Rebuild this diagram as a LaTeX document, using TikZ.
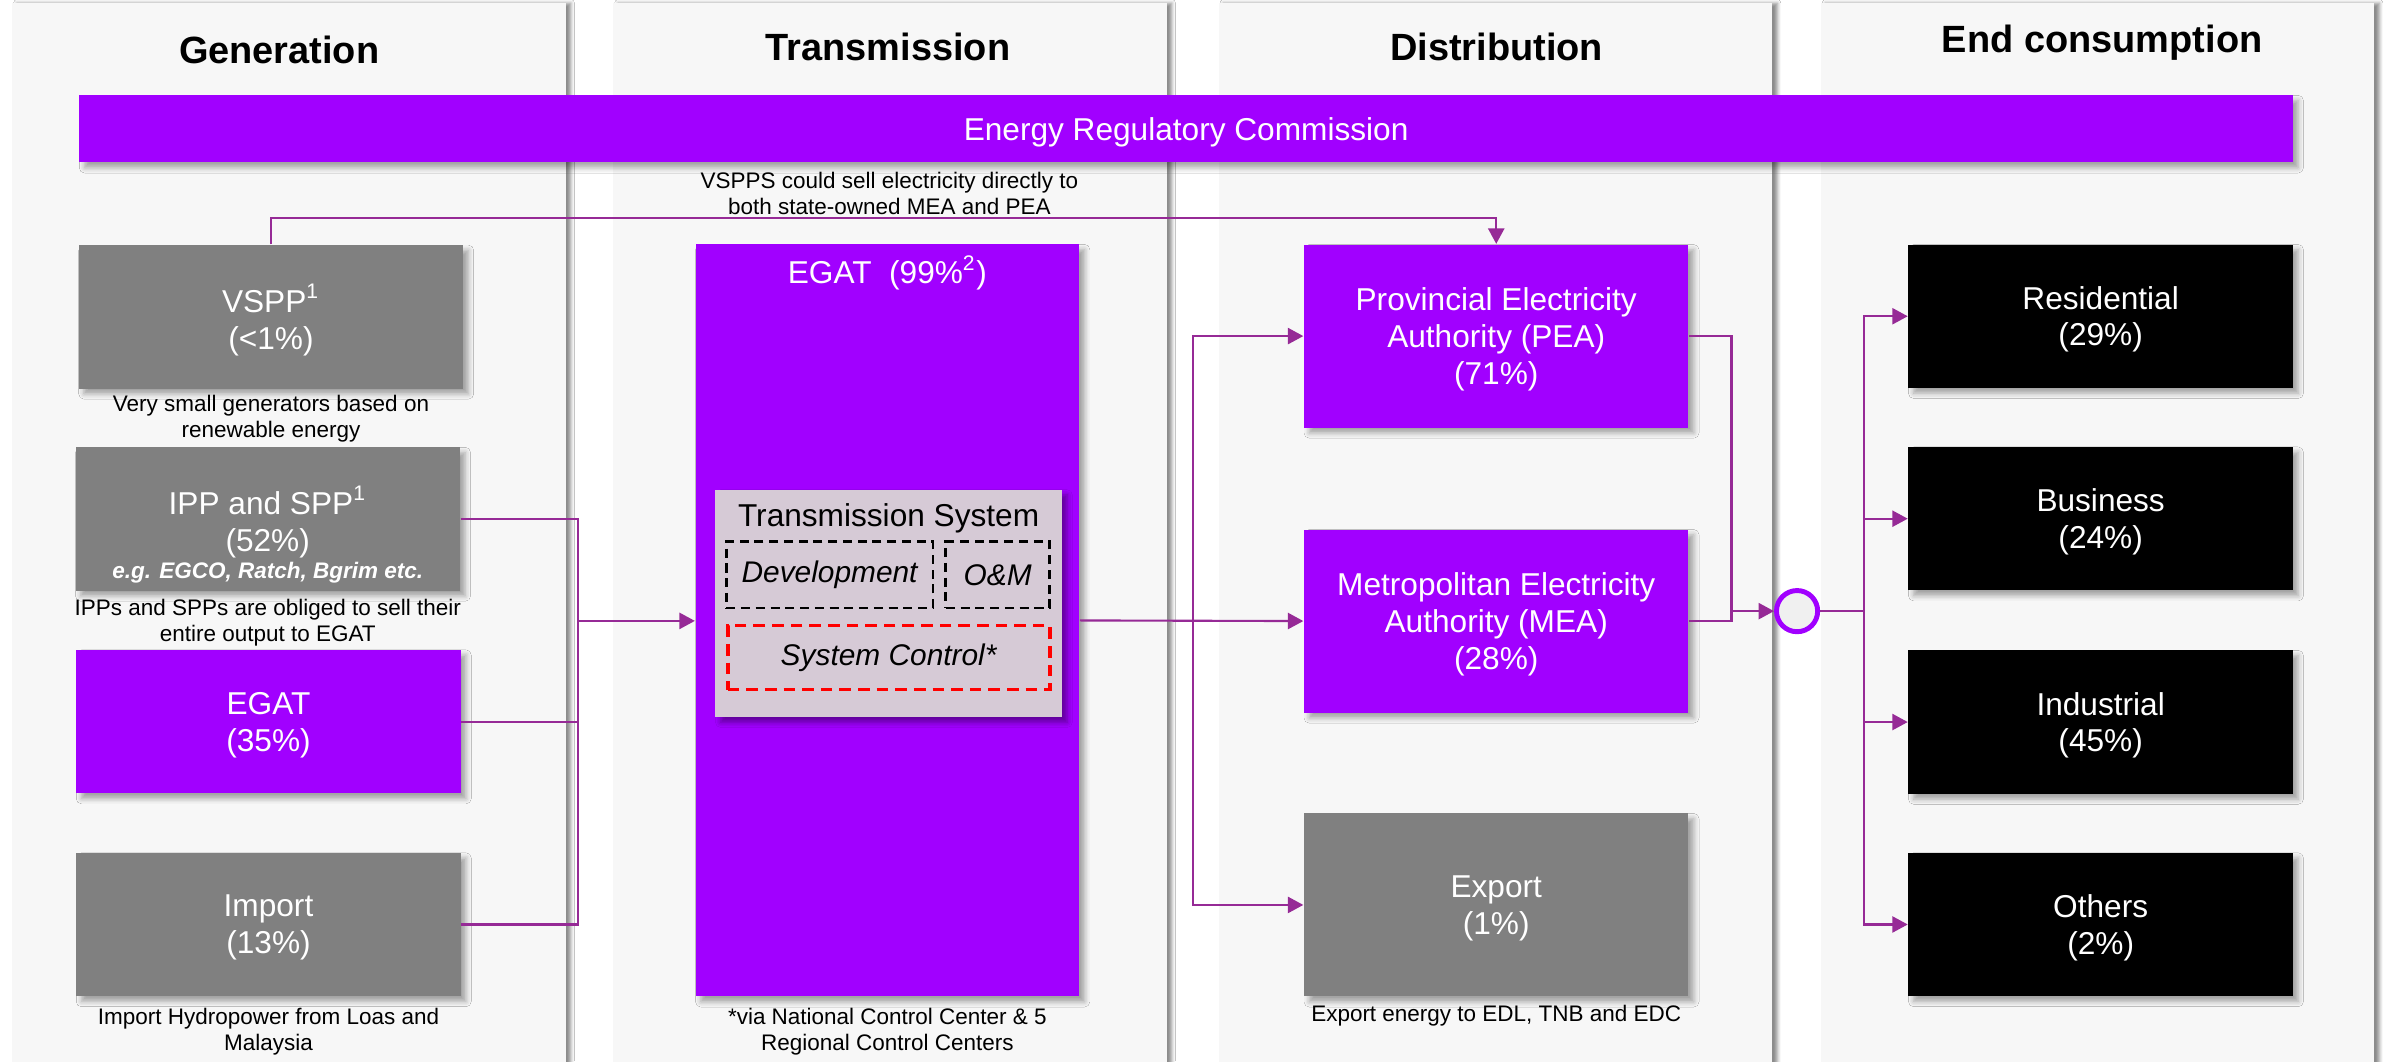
\documentclass[tikz,border=0pt]{standalone}
\usepackage{fontspec}
\setmainfont{Liberation Sans}
\usepackage{tikz}
\usetikzlibrary{arrows.meta,positioning,shadows.blur}
\usepackage{xcolor}
\definecolor{accpurple}{HTML}{A100FF}
\definecolor{accgrey}{HTML}{808080}
\definecolor{linkpurple}{HTML}{962A96}
\definecolor{lanegrey}{HTML}{F7F7F7}
\definecolor{tsysgrey}{HTML}{D6CAD6}
\definecolor{hubgrey}{HTML}{F0F0F0}
\definecolor{ctrlred}{HTML}{FF0000}
\newlength{\gridpx}
\setlength{\gridpx}{0.015255cm}
\tikzset{
  lane/.style={
    fill=lanegrey,
    minimum width=363\gridpx,
    minimum height=698\gridpx,
    inner sep=0pt,
    blur shadow={shadow xshift=1.4pt, shadow yshift=0pt, shadow opacity=45, shadow blur radius=1pt}
  },
  laneheader/.style={
    font=\fontsize{10.8}{13}\selectfont\bfseries
  },
  basebox/.style={
    text=white,
    align=center,
    inner sep=2pt,
    text depth=0pt,
    minimum width=252\gridpx,
    minimum height=94\gridpx,
    font=\fontsize{9}{10.6}\selectfont,
    blur shadow={shadow xshift=1.5pt, shadow yshift=-1.5pt, shadow opacity=35, shadow blur radius=1.5pt}
  },
  greybox/.style={basebox, fill=accgrey},
  purplebox/.style={basebox, fill=accpurple},
  usebox/.style={basebox, fill=black, font=\fontsize{9}{10.4}\selectfont},
  notetext/.style={
    align=center,
    inner sep=0pt,
    font=\fontsize{6.4}{7.4}\selectfont
  },
  tsysbox/.style={
    fill=tsysgrey,
    minimum width=227\gridpx,
    minimum height=149\gridpx,
    inner sep=0pt,
    blur shadow={shadow xshift=1.5pt, shadow yshift=-1.5pt, shadow opacity=40, shadow blur radius=1.5pt}
  },
  devbox/.style={
    draw=black,
    line width=0.8pt,
    dash pattern=on 2.6pt off 1.6pt,
    minimum height=43.6\gridpx,
    inner sep=0pt,
    font=\fontsize{8.5}{10}\selectfont\itshape
  },
  ctrlbox/.style={
    draw=ctrlred,
    line width=1.1pt,
    dash pattern=on 3.3pt off 2pt,
    minimum width=211\gridpx,
    minimum height=42\gridpx,
    inner sep=0pt,
    font=\fontsize{8.5}{10}\selectfont\itshape
  },
  flowline/.style={
    draw=linkpurple,
    line width=0.6pt
  },
  flowarrow/.style={
    flowline,
    -{Triangle[length=4.4pt,width=4.6pt]}
  }
}

\begin{document}
\begin{tikzpicture}[x=0.015255cm, y=-0.015255cm]
\useasboundingbox[fill=white] (0,0) rectangle (1568,695.5);
% lanes and headers
\node[lane] (lanegen) at (189.5,351) {};
\node[lane] (lanetrans) at (583.5,351) {};
\node[lane] (lanedist) at (980.3,351) {};
\node[lane] (laneuse) at (1375,351) {};
\node[laneheader] (hdgen) at (183,33) {Generation};
\node[laneheader] (hdtrans) at (582,31) {Transmission};
\node[laneheader] (hddist) at (981,31) {Distribution};
\node[laneheader] (hduse) at (1378,28) {End consumption};
% regulator
\node[purplebox, minimum width=1451\gridpx, minimum height=44\gridpx] (erc) at (777.5,84.5) {Energy Regulatory Commission};
\node[notetext] (erclink) at (583,127) {VSPPS could sell electricity directly to\\both state-owned MEA and PEA};

% generation
\node[greybox] (vspp) at (177.6,207.7) {VSPP\textsuperscript{1}\\(<1\%)};
\node[notetext, below=1.6pt of vspp] (vsppnote) {Very small generators based on\\renewable energy};
\node[greybox] (ipp) at (175.5,340.2) {IPP and SPP\textsuperscript{1}\\(52\%)};
\node[text=white, inner sep=0pt, font=\fontsize{6.4}{7.4}\selectfont\bfseries\itshape] (ippeg) at (175.5,375.4) {e.g. EGCO, Ratch, Bgrim etc.};
\node[notetext, below=1.9pt of ipp] (ippnote) {IPPs and SPPs are obliged to sell their\\entire output to EGAT};
\node[purplebox] (egatgen) at (176,473) {EGAT\\(35\%)};
\node[greybox] (import) at (176,606) {Import\\(13\%)};
\node[notetext, below=3pt of import] (importnote) {Import Hydropower from Loas and\\Malaysia};

% transmission
\node[purplebox, minimum width=251.5\gridpx, minimum height=493\gridpx] (egat) at (581.7,406.7) {};
\node[text=white, font=\fontsize{9}{10.6}\selectfont] (egattitle) at (581.7,179) {EGAT\ \ (99\%\textsuperscript{2})};
\node[tsysbox] (tsys) at (582.5,395.5) {};
\node[font=\fontsize{9}{10.6}\selectfont] (tsystitle) at (582.5,340) {Transmission System};
\node[devbox, minimum width=135.5\gridpx] (dev) at (543.8,376.8) {Development};
\node[devbox, minimum width=68\gridpx] (om) at (654,376.8) {O\&M};
\node[ctrlbox] (sysctrl) at (582.5,431) {System Control*};
\node[notetext, below=3pt of egat] (egatnote) {*via National Control Center \& 5\\Regional Control Centers};

% distribution
\node[purplebox, minimum height=120\gridpx] (pea) at (980.8,220.3) {Provincial Electricity\\Authority (PEA)\\(71\%)};
\node[purplebox, minimum height=120\gridpx] (mea) at (980.8,407.1) {Metropolitan Electricity\\Authority (MEA)\\(28\%)};
\node[greybox, minimum height=120\gridpx] (export) at (980.8,593.2) {Export\\(1\%)};
\node[notetext, below=2pt of export] (exportnote) {Export energy to EDL, TNB and EDC};
\node[circle, draw=accpurple, line width=1.4pt, fill=hubgrey, minimum size=27\gridpx, inner sep=0pt] (hub) at (1178,400.6) {};

% end consumption
\node[usebox] (res) at (1377,207.3) {Residential\\(29\%)};
\node[usebox] (bus) at (1377,340) {Business\\(24\%)};
\node[usebox] (ind) at (1377,473.3) {Industrial\\(45\%)};
\node[usebox] (oth) at (1377,606) {Others\\(2\%)};

% flows
\coordinate (genjoin) at (379,407);
\draw[flowline] (ipp.east) -| (genjoin);
\draw[flowline] (egatgen.east) -| (genjoin);
\draw[flowline] (import.east) -| (genjoin);
\draw[flowarrow] (genjoin) -- (genjoin -| egat.west);
\draw[flowarrow] (vspp.north) -- ++(0,-17.6) -| (pea.north);
\coordinate (distjoin) at (782,407);
\draw[flowarrow] (egat.east) -- (mea.west);
\draw[flowarrow] (distjoin) |- (pea.west);
\draw[flowarrow] (distjoin) |- (export.west);
\coordinate (meajoin) at (1135,407.1);
\coordinate (hubjoin) at (1135,400.6);
\draw[flowline] (pea.east) -| (meajoin) -- (mea.east);
\draw[flowarrow] (hubjoin) -- (hub.west);
\coordinate (usejoin) at (1222,400.6);
\draw[flowline] (hub.east) -- (usejoin);
\draw[flowarrow] (usejoin) |- (res.west);
\draw[flowarrow] (usejoin) |- (bus.west);
\draw[flowarrow] (usejoin) |- (ind.west);
\draw[flowarrow] (usejoin) |- (oth.west);
\end{tikzpicture}
\end{document}
